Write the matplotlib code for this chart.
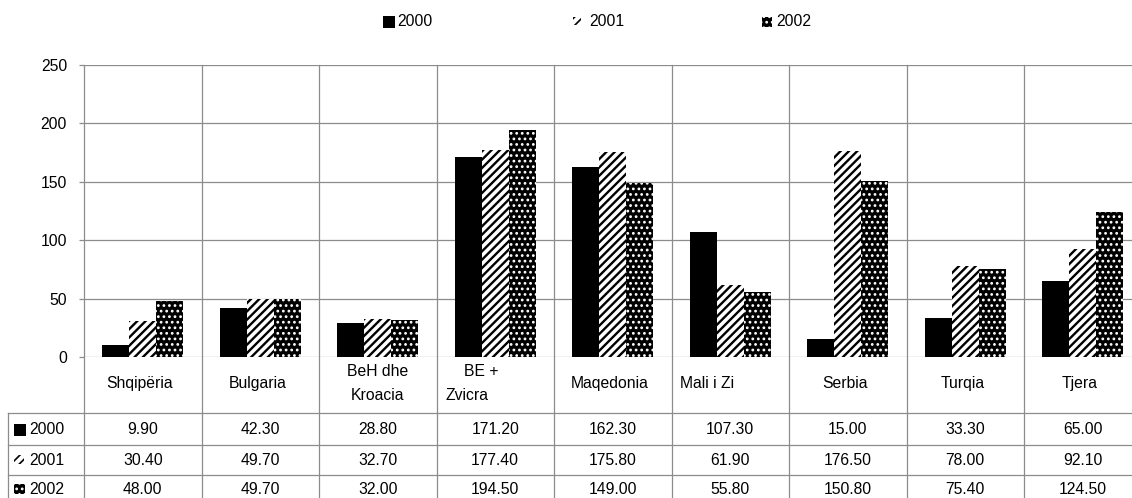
import numpy as np
import matplotlib
matplotlib.use("Agg")
import matplotlib.pyplot as plt
from matplotlib.lines import Line2D
from matplotlib.patches import Rectangle
from matplotlib import transforms

# ---------------- data ----------------
categories = ['Shqipëria', 'Bulgaria', 'BeH dhe\nKroacia', 'BE +\nZvicra',
              'Maqedonia', 'Mali i Zi', 'Serbia', 'Turqia', 'Tjera']
years = ['2000', '2001', '2002']
v2000 = [9.90, 42.30, 28.80, 171.20, 162.30, 107.30, 15.00, 33.30, 65.00]
v2001 = [30.40, 49.70, 32.70, 177.40, 175.80, 61.90, 176.50, 78.00, 92.10]
v2002 = [48.00, 49.70, 32.00, 194.50, 149.00, 55.80, 150.80, 75.40, 124.50]
yticks = [0, 50, 100, 150, 200, 250]

# ---------------- style ----------------
plt.rcParams['font.family'] = ['Liberation Sans', 'DejaVu Sans']
FS = 11.3
GRID = '#8c8c8c'
W, H = 1132, 498
HATCH_LINES = '////'
HATCH_DOTS = '...'

fig = plt.figure(figsize=(W / 100, H / 100), dpi=100)
fig.patch.set_facecolor('white')


def fx(px):
    return px / W


def fy(py):
    return 1 - py / H


x0, cw, ytop, ybot = 84, 117.5, 65, 357
ax = fig.add_axes([fx(x0), fy(ybot), 9 * cw / W, (ybot - ytop) / H])
ax.set_xlim(0, len(categories))
ax.set_ylim(0, 250)
for s in ax.spines.values():
    s.set_visible(False)
ax.set_xticks([])
ax.set_yticks(yticks)
ax.set_yticklabels([str(t) for t in yticks], fontsize=FS)
ax.tick_params(axis='y', length=3.6, width=0.9, color=GRID, pad=8.6)
ax.yaxis.grid(True, color=GRID, lw=0.9)
ax.set_axisbelow(True)

xs = np.arange(len(categories)) + 0.5
w = 0.23
ax.bar(xs - w, v2000, w, color='black', lw=0, zorder=3)
plt.rcParams['hatch.linewidth'] = 1.7
ax.bar(xs, v2001, w, facecolor='white', edgecolor='black', hatch=HATCH_LINES, lw=0, zorder=3)
plt.rcParams['hatch.linewidth'] = 1.2
ax.bar(xs + w, v2002, w, facecolor='black', edgecolor='white', hatch=HATCH_DOTS, lw=0, zorder=3)

bt = transforms.blended_transform_factory(ax.transData, fig.transFigure)

# vertical lines (axis + category boundaries), through the table
for i in range(len(categories) + 1):
    fig.add_artist(Line2D([i, i], [0, fy(ytop)], transform=bt, color=GRID, lw=0.9))

# table horizontal lines
for py in [413, 444.5, 474.5]:
    fig.add_artist(Line2D([fx(8), 1.0], [fy(py), fy(py)], transform=fig.transFigure,
                          color=GRID, lw=0.9))
fig.add_artist(Line2D([fx(8), fx(8)], [0, fy(413)], transform=fig.transFigure,
                      color=GRID, lw=0.9))

# category labels
for i, lab in enumerate(categories):
    cx = i + 0.5
    if lab == 'BE +\nZvicra':
        fig.text(cx - 14 / cw, fy(371), 'BE +', transform=bt, ha='center', va='center', fontsize=FS)
        fig.text(i + 9 / cw, fy(395), 'Zvicra', transform=bt, ha='left', va='center', fontsize=FS)
    elif lab == 'Mali i Zi':
        fig.text(i + 8 / cw, fy(383), lab, transform=bt, ha='left', va='center', fontsize=FS)
    elif '\n' in lab:
        a, b = lab.split('\n')
        fig.text(cx, fy(371), a, transform=bt, ha='center', va='center', fontsize=FS)
        fig.text(cx, fy(395), b, transform=bt, ha='center', va='center', fontsize=FS)
    else:
        fig.text(cx - 3 / cw, fy(383), lab, transform=bt, ha='center', va='center', fontsize=FS)

# table values
row_y = [430, 460, 489]
for vals, ry in zip([v2000, v2001, v2002], row_y):
    for i, v in enumerate(vals):
        fig.text(i + 0.5, fy(ry), f'{v:.2f}', transform=bt, ha='center', va='center', fontsize=FS)


def key(px, py, wpx, hpx, kind):
    if kind == 0:
        r = Rectangle((fx(px), fy(py + hpx)), wpx / W, hpx / H, transform=fig.transFigure,
                      facecolor='black', lw=0)
    elif kind == 1:
        r = Rectangle((fx(px), fy(py + hpx)), wpx / W, hpx / H, transform=fig.transFigure,
                      facecolor='white', edgecolor='black', hatch=HATCH_LINES, lw=0)
    else:
        r = Rectangle((fx(px), fy(py + hpx)), wpx / W, hpx / H, transform=fig.transFigure,
                      facecolor='black', edgecolor='white', hatch=HATCH_DOTS, lw=0)
    fig.add_artist(r)


# row headers
key(14, 424, 12, 12, 0)
key(14, 455, 10, 9, 1)
key(14, 484, 11, 10, 2)
for yr, ry in zip(years, row_y):
    fig.text(fx(29), fy(ry), yr, ha='left', va='center', fontsize=FS)

# top legend
key(383, 16, 12, 12, 0)
fig.text(fx(397), fy(22), years[0], ha='left', va='center', fontsize=FS)
key(573, 17, 8, 8, 1)
fig.text(fx(589), fy(22), years[1], ha='left', va='center', fontsize=FS)
key(762, 17, 10, 10, 2)
fig.text(fx(776), fy(22), years[2], ha='left', va='center', fontsize=FS)

fig.savefig('out.png', dpi=100)
